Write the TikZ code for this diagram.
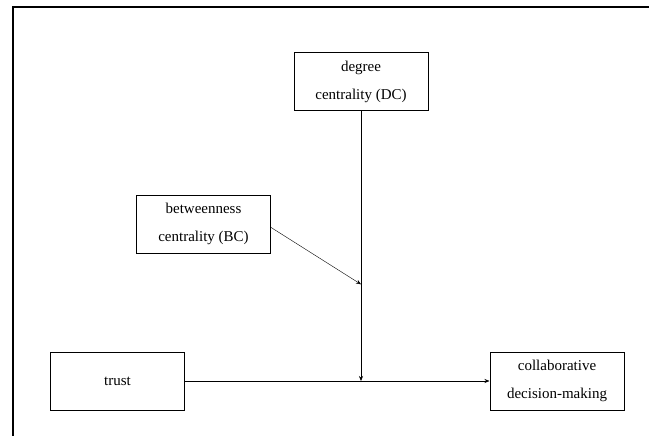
\documentclass[tikz,border=0pt]{standalone}
\usepackage{fontspec}
\setmainfont{Liberation Serif}
\usetikzlibrary{arrows.meta}
\tikzset{
 var box/.style={draw=black,line width=1pt,minimum width=134pt,minimum height=58pt,
                 inner sep=2pt,align=center,font=\fontsize{15}{28}\selectfont},
 var path/.style={line width=.6pt,-{Stealth[length=5pt,width=4pt]}},
 var frame/.style={line width=1.6pt}
}
\begin{document}
\begin{tikzpicture}[x=1pt,y=-1pt]
 \useasboundingbox (0,0) rectangle (649,436);
 \draw[var frame] (13,436)--(13,7)--(649,7);

 \node[var box] (dc) at (361,81.5) {degree\\centrality (DC)};
 \node[var box] (bc) at (203.5,224) {betweenness\\centrality (BC)};
 \node[var box] (trust) at (117.5,381) {trust};
 \node[var box] (cdm) at (557,381) {collaborative\\decision-making};
 \coordinate (bcout) at (270.3,227);
 \coordinate (bcend) at (361,284.3);
 \coordinate (dcend) at (dc.south |- trust.east);

 \draw[var path] (trust.east)--(cdm.west);
 \draw[var path] (dc.south)--(dcend);
 \draw[var path,line width=.4pt] (bcout)--(bcend);
\end{tikzpicture}
\end{document}
